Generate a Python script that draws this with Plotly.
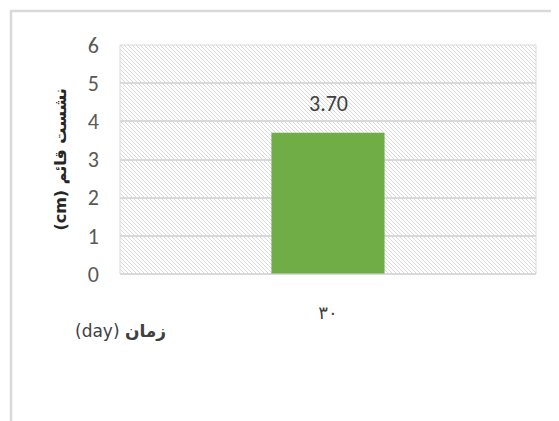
import base64
import plotly.graph_objects as go

# ---- data ----
categories = ["۳۰"]
values = [3.7]
value_labels = ["3.70"]
y_ticks = [0, 1, 2, 3, 4, 5, 6]
y_title = "(cm) نشست قائم"
x_title_latin = "(day)"
x_title_arabic = "زمان"

GRID = "#d9d9d9"
TICK_FONT = "Carlito, Lato, Roboto, sans-serif"

# hatch background (decoration) as an inline SVG image
svg = (
    '<svg xmlns="http://www.w3.org/2000/svg" width="416" height="229">'
    '<defs><pattern id="h" patternUnits="userSpaceOnUse" width="4" height="4">'
    '<rect width="4" height="4" fill="white"/>'
    '<path d="M-1,-1 L5,5 M-1,3 L1,5 M3,-1 L5,1" stroke="#dadada" stroke-width="1"/>'
    '</pattern></defs><rect width="416" height="229" fill="url(#h)"/></svg>'
)
hatch_src = "data:image/svg+xml;base64," + base64.b64encode(svg.encode()).decode()

fig = go.Figure()
fig.add_trace(go.Bar(
    x=categories, y=values,
    marker=dict(color="#70ad47", line=dict(width=0)),
    hoverinfo="skip",
))

for c, v, t in zip(categories, values, value_labels):
    fig.add_annotation(
        x=c, y=v, text=t, showarrow=False, yanchor="bottom", yshift=14,
        font=dict(family=TICK_FONT, size=22, color="#404040", weight=300),
    )

# axis titles
fig.add_annotation(
    xref="paper", yref="paper", x=-0.144, y=0.5, text="<b>" + y_title + "</b>",
    textangle=-90, showarrow=False, xanchor="center", yanchor="middle",
    font=dict(family="DejaVu Sans, Noto Sans", size=16, color="#262626"),
)
fig.add_annotation(
    xref="paper", yref="paper", x=0.0, y=-0.249,
    text=x_title_latin + " <b>" + x_title_arabic + "</b>",
    showarrow=False, xanchor="center", yanchor="middle",
    font=dict(family="DejaVu Sans, Noto Sans", size=17, color="#404040"),
)

# plot-area side borders and outer frame
fig.add_shape(type="rect", xref="paper", yref="paper", x0=0, x1=1, y0=0, y1=1,
              line=dict(color=GRID, width=1), layer="above")
fig.add_shape(type="rect", xref="paper", yref="paper", x0=-0.262, x1=1.1, y0=-0.7, y1=1.148,
              line=dict(color="#d9d9d9", width=2.5))

fig.update_layout(
    width=559, height=421,
    margin=dict(l=112, r=31, t=37, b=155),
    paper_bgcolor="white",
    plot_bgcolor="rgba(0,0,0,0)",
    showlegend=False,
    bargap=0.728,
    images=[dict(source=hatch_src, xref="paper", yref="paper", x=0, y=1,
                 sizex=1, sizey=1, sizing="stretch", layer="below",
                 xanchor="left", yanchor="top")],
    xaxis=dict(
        type="category", showgrid=False, showline=False, zeroline=False,
        ticks="", tickfont=dict(family="DejaVu Sans, Noto Sans", size=18, color="#404040"),
        ticklabelstandoff=26,
    ),
    yaxis=dict(
        range=[0, 6], tickvals=y_ticks, showgrid=True, gridcolor=GRID, gridwidth=1.5,
        zeroline=True, zerolinecolor=GRID, zerolinewidth=1.5, showline=False, ticks="",
        tickfont=dict(family=TICK_FONT, size=22, color="#595959", weight=300),
        ticklabelstandoff=20,
    ),
)

fig.write_html("out.html")
